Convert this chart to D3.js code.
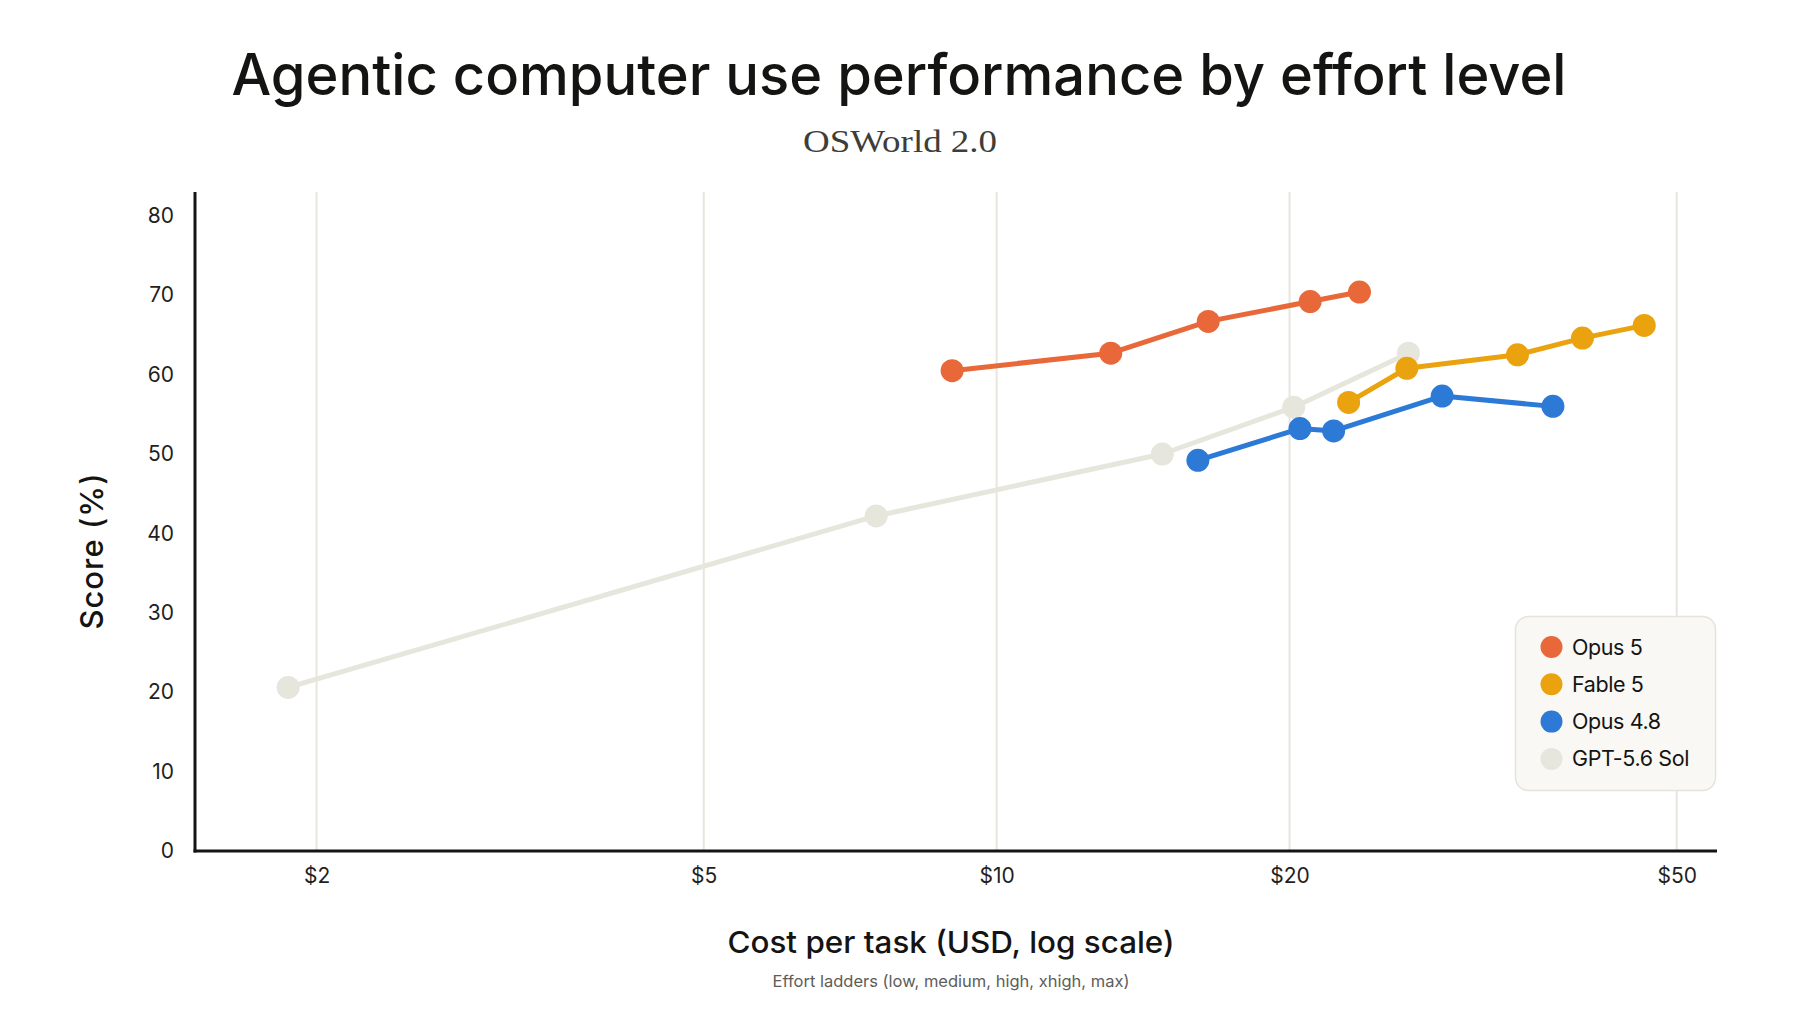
<!DOCTYPE html>
<html>
<head>
	<meta charset="utf-8">
	<title>Agentic computer use performance by effort level</title>
	<style>
		body { margin: 0; background: #fff; }
		svg { display: block; font-family: Inter, "Noto Sans", sans-serif; }
	</style>
</head>
<body>
	<svg id="container" width="1800" height="1013"></svg>
</body>
<script src="https://d3js.org/d3.v7.min.js"></script>
<script>
	// values (cost in USD per task, score in %)
	const seriesNames = ["Opus 5", "Fable 5", "Opus 4.8", "GPT-5.6 Sol"]
	const seriesColors = ["#E8683A", "#EBA20F", "#2D7AD6", "#E6E6DD"]

	const opus5Cost = [9.0, 13.1, 16.5, 21.0, 23.6]
	const opus5Score = [60.5, 62.7, 66.7, 69.2, 70.4]

	const fable5Cost = [23.0, 26.4, 34.3, 40.0, 46.3]
	const fable5Score = [56.5, 60.8, 62.5, 64.6, 66.2]

	const opus48Cost = [16.1, 20.5, 22.2, 28.7, 37.3]
	const opus48Score = [49.2, 53.2, 52.9, 57.3, 56.0]

	const gptCost = [1.87, 7.52, 14.8, 20.2, 26.5]
	const gptScore = [20.6, 42.2, 50.0, 55.9, 62.7]

	const xTicks = [2, 5, 10, 20, 50]
	const yTicks = [0, 10, 20, 30, 40, 50, 60, 70, 80]

	const seriesCost = [opus5Cost, fable5Cost, opus48Cost, gptCost]
	const seriesScore = [opus5Score, fable5Score, opus48Score, gptScore]

	let svg = d3.select("#container")

	let plotLeft = 195, plotRight = 1717, plotTop = 192, plotBottom = 851

	let x = d3.scaleLog()
		.domain([1.5, 55])
		.range([plotLeft, plotRight])

	let y = d3.scaleLinear()
		.domain([0, 83])
		.range([plotBottom, plotTop])

	// titles
	svg.append("text")
		.attr("x", 899).attr("y", 95)
		.attr("text-anchor", "middle")
		.attr("font-size", 57)
		.attr("font-weight", 500)
		.attr("fill", "#141413")
		.attr("textLength", 1335)
		.attr("lengthAdjust", "spacingAndGlyphs")
		.text("Agentic computer use performance by effort level")

	svg.append("text")
		.attr("x", 900).attr("y", 152)
		.attr("text-anchor", "middle")
		.attr("font-family", "'Liberation Serif', 'DejaVu Serif', serif")
		.attr("font-size", 32)
		.attr("fill", "#3D3D3A")
		.attr("textLength", 194)
		.attr("lengthAdjust", "spacingAndGlyphs")
		.text("OSWorld 2.0")

	// vertical gridlines
	svg.append("g").selectAll("line")
		.data(xTicks)
		.enter().append("line")
		.attr("x1", d => x(d)).attr("x2", d => x(d))
		.attr("y1", plotTop).attr("y2", plotBottom)
		.attr("stroke", "#E8E6DC")
		.attr("stroke-width", 2)

	// axes
	let xAxis = svg.append("g")
		.attr("transform", `translate(0,${plotBottom})`)
		.call(d3.axisBottom(x).tickValues(xTicks).tickFormat(d => "$" + d).tickSize(0).tickPadding(17))
	xAxis.select(".domain").remove()
	xAxis.selectAll("text").attr("font-size", 21).attr("fill", "#1F1F1E").attr("font-family", "Inter, sans-serif")

	let yAxis = svg.append("g")
		.attr("transform", `translate(${plotLeft},0)`)
		.call(d3.axisLeft(y).tickValues(yTicks).tickSize(0).tickPadding(21))
	yAxis.select(".domain").remove()
	yAxis.selectAll("text").attr("font-size", 21).attr("fill", "#1F1F1E").attr("font-family", "Inter, sans-serif")

	svg.append("line")
		.attr("x1", plotLeft).attr("x2", plotLeft)
		.attr("y1", plotTop).attr("y2", plotBottom + 1.5)
		.attr("stroke", "#141413").attr("stroke-width", 3)
	svg.append("line")
		.attr("x1", plotLeft - 1.5).attr("x2", plotRight)
		.attr("y1", plotBottom).attr("y2", plotBottom)
		.attr("stroke", "#141413").attr("stroke-width", 3)

	// axis titles
	svg.append("text")
		.attr("transform", "translate(103,551) rotate(-90)")
		.attr("text-anchor", "middle")
		.attr("font-size", 31)
		.attr("font-weight", 500)
		.attr("fill", "#141413")
		.attr("letter-spacing", 1)
		.text("Score (%)")

	svg.append("text")
		.attr("x", 951).attr("y", 953)
		.attr("text-anchor", "middle")
		.attr("font-size", 30)
		.attr("font-weight", 500)
		.attr("fill", "#141413")
		.attr("textLength", 447)
		.attr("lengthAdjust", "spacingAndGlyphs")
		.text("Cost per task (USD, log scale)")

	svg.append("text")
		.attr("x", 951).attr("y", 987)
		.attr("text-anchor", "middle")
		.attr("font-size", 16.5)
		.attr("fill", "#5E5D59")
		.text("Effort ladders (low, medium, high, xhigh, max)")

	// series, drawn back to front
	let line = d3.line().x(d => x(d[0])).y(d => y(d[1]))
	let order = [3, 2, 1, 0]

	order.forEach(i => {
		let pts = d3.zip(seriesCost[i], seriesScore[i])
		let g = svg.append("g")
		g.append("path")
			.attr("d", line(pts))
			.attr("fill", "none")
			.attr("stroke", seriesColors[i])
			.attr("stroke-width", 5)
			.attr("stroke-linejoin", "round")
		g.selectAll("circle")
			.data(pts)
			.enter().append("circle")
			.attr("cx", d => x(d[0]))
			.attr("cy", d => y(d[1]))
			.attr("r", 11.5)
			.attr("fill", seriesColors[i])
	})

	// legend
	let legend = svg.append("g").attr("transform", "translate(1515,616)")
	legend.append("rect")
		.attr("x", 0.5).attr("y", 0.5)
		.attr("width", 200).attr("height", 174)
		.attr("rx", 13)
		.attr("fill", "#F9F8F4")
		.attr("stroke", "#E6E3DA")
		.attr("stroke-width", 1.5)

	let items = legend.selectAll("g.item")
		.data(seriesNames)
		.enter().append("g")
		.attr("class", "item")
		.attr("transform", (d, i) => `translate(0,${31 + i * 37.3})`)
	items.append("circle")
		.attr("cx", 36.5).attr("cy", 0)
		.attr("r", 11)
		.attr("fill", (d, i) => seriesColors[i])
	items.append("text")
		.attr("x", 57).attr("y", 0)
		.attr("dy", "0.35em")
		.attr("font-size", 21.5)
		.attr("fill", "#141413")
		.attr("letter-spacing", -0.4)
		.text(d => d)
</script>
</html>
